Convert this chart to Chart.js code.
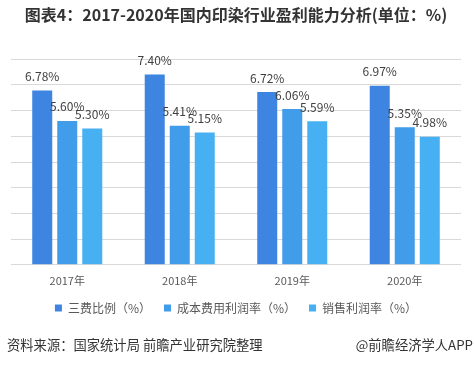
<!DOCTYPE html>
<html>
<head>
<meta charset="utf-8">
<script src="https://cdn.jsdelivr.net/npm/chart.js@4/dist/chart.umd.min.js"></script>
<style>
  html, body { margin: 0; padding: 0; background: #fff; }
  #wrap { width: 474px; height: 366px; position: relative; }
</style>
</head>
<body>
<div id="wrap"><canvas id="myChart"></canvas></div>
<script>
// data
const years = ['2017年', '2018年', '2019年', '2020年'];
const sanfei = [6.78, 7.40, 6.72, 6.97];     // 三费比例
const chengben = [5.60, 5.41, 6.06, 5.35];   // 成本费用利润率
const xiaoshou = [5.30, 5.15, 5.59, 4.98];   // 销售利润率
const seriesNames = ['三费比例（%）', '成本费用利润率（%）', '销售利润率（%）'];

const colors = ['#3e85e1', '#419dea', '#47b0f3'];
const FONT = '"Noto Sans CJK SC", "Microsoft YaHei", sans-serif';

// value labels above each bar
const barLabels = {
  id: 'barLabels',
  afterDatasetsDraw(chart) {
    const ctx = chart.ctx;
    ctx.save();
    ctx.font = '12px ' + FONT;
    ctx.fillStyle = '#404040';
    ctx.textAlign = 'center';
    ctx.textBaseline = 'middle';
    chart.data.datasets.forEach((ds, i) => {
      const meta = chart.getDatasetMeta(i);
      meta.data.forEach((bar, j) => {
        ctx.fillText(ds.data[j].toFixed(2) + '%', bar.x, bar.y - 14);
      });
    });
    ctx.restore();
  }
};

// source line at the bottom
const sourceText = {
  id: 'sourceText',
  afterDraw(chart) {
    const ctx = chart.ctx;
    ctx.save();
    ctx.font = '13.3px ' + FONT;
    ctx.fillStyle = '#333333';
    ctx.textBaseline = 'middle';
    ctx.textAlign = 'left';
    ctx.fillText('资料来源：国家统计局 前瞻产业研究院整理', 7, 345);
    ctx.textAlign = 'right';
    ctx.fillText('@前瞻经济学人APP', 473, 345);
    ctx.restore();
  }
};

const ctx = document.getElementById('myChart');
new Chart(ctx, {
  type: 'bar',
  data: {
    labels: years,
    datasets: [
      { label: seriesNames[0], data: sanfei, backgroundColor: colors[0] },
      { label: seriesNames[1], data: chengben, backgroundColor: colors[1] },
      { label: seriesNames[2], data: xiaoshou, backgroundColor: colors[2] },
    ],
  },
  options: {
    responsive: true,
    maintainAspectRatio: false,
    animation: false,
    datasets: {
      bar: { barPercentage: 0.8, categoryPercentage: 0.667 }
    },
    layout: { padding: { left: 11, right: 13, top: 0, bottom: 42 } },
    plugins: {
      title: {
        display: true,
        text: '图表4：2017-2020年国内印染行业盈利能力分析(单位：%)',
        color: '#333333',
        font: { family: FONT, size: 16, weight: 'bold' },
        padding: { top: 5, bottom: 35 },
      },
      legend: {
        position: 'bottom',
        labels: {
          color: '#595959',
          font: { family: FONT, size: 12 },
          boxWidth: 7,
          boxHeight: 7,
          padding: 13,
        }
      },
      tooltip: { enabled: false },
    },
    scales: {
      x: {
        grid: { display: false },
        border: { display: false },
        ticks: { color: '#595959', font: { family: FONT, size: 11 }, padding: 1 },
        afterFit(scale) { scale.height += 1; },
      },
      y: {
        min: 0,
        max: 8,
        ticks: { stepSize: 1, display: false },
        grid: { color: '#d9d9d9', drawTicks: false },
        border: { display: false },
      },
    },
  },
  plugins: [barLabels, sourceText],
});
</script>
</body>
</html>
